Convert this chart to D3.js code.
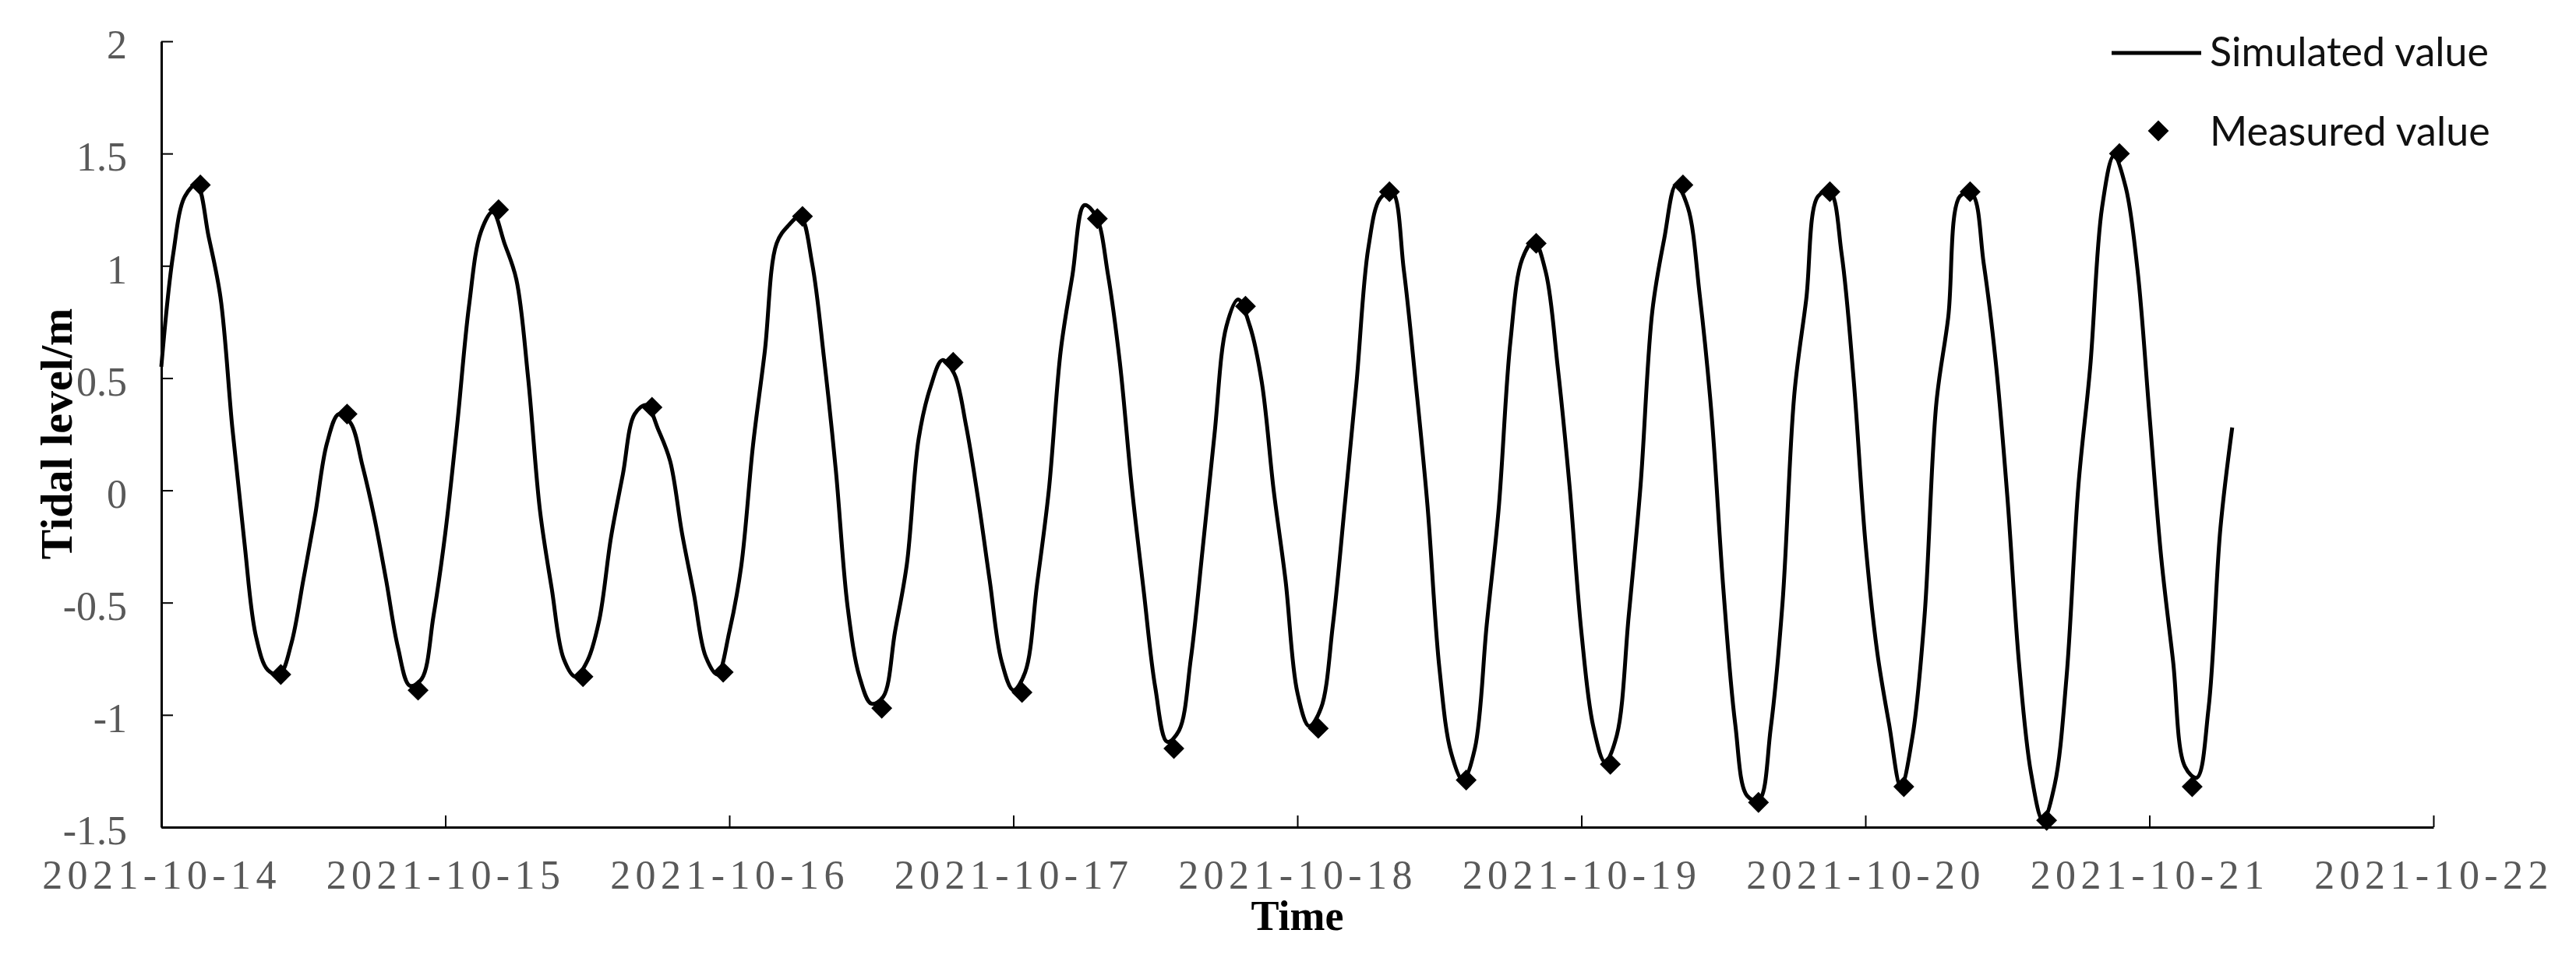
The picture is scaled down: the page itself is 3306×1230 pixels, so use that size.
<!DOCTYPE html>
<html>
<head>
<meta charset="utf-8">
<script src="https://cdnjs.cloudflare.com/ajax/libs/d3/7.8.5/d3.min.js"></script>
<style>
  body { margin: 0; background: #fff; }
  svg { display: block; }
</style>
</head>
<body>
<div id="chart"></div>
<script>
// Simulated tidal level, one value per hour starting at simStart (m)
const simStart = '2021-10-14 00:00';
const simValues = [
  0.55, 1.05, 1.31, 1.36, 1.13, 0.86, 0.28, -0.22, -0.65, -0.80, -0.82, -0.68,
  -0.40, -0.11, 0.21, 0.34, 0.30, 0.11, -0.12, -0.40, -0.70, -0.87, -0.84, -0.56,
  -0.19, 0.29, 0.82, 1.15, 1.24, 1.10, 0.94, 0.50, -0.09, -0.44, -0.75, -0.83,
  -0.76, -0.58, -0.21, 0.07, 0.34, 0.38, 0.27, 0.13, -0.19, -0.46, -0.74, -0.82,
  -0.63, -0.34, 0.20, 0.62, 1.10, 1.18, 1.22, 1.01, 0.59, 0.09, -0.52, -0.83,
  -0.95, -0.92, -0.63, -0.33, 0.23, 0.46, 0.58, 0.52, 0.29, -0.03, -0.40, -0.76,
  -0.89, -0.81, -0.42, 0.00, 0.62, 0.96, 1.27, 1.22, 0.96, 0.57, 0.02, -0.44,
  -0.88, -1.12, -1.07, -0.75, -0.26, 0.25, 0.73, 0.85, 0.73, 0.48, 0.00, -0.40,
  -0.90, -1.05, -0.97, -0.60, -0.07, 0.48, 1.08, 1.30, 1.33, 0.98, 0.48, -0.07,
  -0.79, -1.17, -1.29, -1.15, -0.60, -0.09, 0.66, 1.03, 1.11, 0.97, 0.55, 0.02,
  -0.63, -1.05, -1.21, -1.09, -0.56, 0.02, 0.80, 1.12, 1.36, 1.26, 0.87, 0.34,
  -0.44, -1.04, -1.36, -1.38, -1.06, -0.50, 0.43, 0.85, 1.31, 1.33, 1.05, 0.50,
  -0.23, -0.72, -1.04, -1.32, -1.09, -0.56, 0.39, 0.77, 1.31, 1.32, 1.01, 0.58,
  -0.03, -0.78, -1.26, -1.47, -1.31, -0.83, 0.02, 0.55, 1.26, 1.49, 1.35, 0.98,
  0.34, -0.30, -0.76, -1.23, -1.28, -0.97, -0.17, 0.28
];

// Measured high and low waters
const measuredTimes = [
  '2021-10-14 03:18', '2021-10-14 10:06', '2021-10-14 15:42', '2021-10-14 21:42',
  '2021-10-15 04:30', '2021-10-15 11:38', '2021-10-15 17:28', '2021-10-15 23:29',
  '2021-10-16 06:11', '2021-10-16 12:53', '2021-10-16 18:55', '2021-10-17 00:44',
  '2021-10-17 07:06', '2021-10-17 13:34', '2021-10-17 19:37', '2021-10-18 01:46',
  '2021-10-18 07:47', '2021-10-18 14:16', '2021-10-18 20:11', '2021-10-19 02:27',
  '2021-10-19 08:35', '2021-10-19 14:58', '2021-10-19 21:00', '2021-10-20 03:15',
  '2021-10-20 08:51', '2021-10-20 15:19', '2021-10-20 21:28', '2021-10-21 03:37'
];
const measuredValues = [
  1.36, -0.82, 0.34, -0.89, 1.25, -0.83, 0.37, -0.81,
  1.22, -0.97, 0.57, -0.90, 1.21, -1.15, 0.82, -1.06,
  1.33, -1.29, 1.10, -1.22, 1.36, -1.39, 1.33, -1.32,
  1.33, -1.47, 1.50, -1.32
];

const xTickLabels = [
  '2021-10-14', '2021-10-15', '2021-10-16', '2021-10-17', '2021-10-18',
  '2021-10-19', '2021-10-20', '2021-10-21', '2021-10-22'
];
const yTickValues = [-1.5, -1, -0.5, 0, 0.5, 1, 1.5, 2];

const legendLabels = ['Simulated value', 'Measured value'];

// 1. Setup
const width = 3306, height = 1230;
const plot = { left: 207, right: 3123, top: 53, bottom: 1062 };

const parseDay = d3.timeParse('%Y-%m-%d');
const parseTime = d3.timeParse('%Y-%m-%d %H:%M');
const serif = '"Liberation Serif", "Times New Roman", serif';

const svg = d3.select('#chart').append('svg')
  .attr('width', width)
  .attr('height', height)
  .style('background', '#fff');

const x = d3.scaleTime()
  .domain([parseDay(xTickLabels[0]), parseDay(xTickLabels[xTickLabels.length - 1])])
  .range([plot.left, plot.right]);

const y = d3.scaleLinear()
  .domain([yTickValues[0], yTickValues[yTickValues.length - 1]])
  .range([plot.bottom, plot.top]);

const t0 = parseTime(simStart);
const simData = simValues.map((v, i) => ({ t: d3.timeHour.offset(t0, i), v: v }));
const measData = measuredTimes.map((s, i) => ({ t: parseTime(s), v: measuredValues[i] }));

// 2. Axes
const xAxis = d3.axisBottom(x)
  .tickValues(xTickLabels.map(parseDay))
  .tickFormat(d3.timeFormat('%Y-%m-%d'))
  .tickSizeInner(-15)
  .tickSizeOuter(0)
  .tickPadding(42);

const yAxis = d3.axisLeft(y)
  .tickValues(yTickValues)
  .tickFormat(d => String(d))
  .tickSizeInner(-15)
  .tickSizeOuter(0)
  .tickPadding(44);

const gx = svg.append('g')
  .attr('transform', `translate(0,${plot.bottom})`)
  .call(xAxis);

const gy = svg.append('g')
  .attr('transform', `translate(${plot.left},0)`)
  .call(yAxis);

[gx, gy].forEach(g => {
  g.select('.domain').attr('stroke', '#000').attr('stroke-width', 3);
  g.selectAll('.tick line').attr('stroke', '#000').attr('stroke-width', 2);
  g.selectAll('.tick text')
    .attr('fill', '#595959')
    .style('font-family', serif)
    .style('font-size', '52px');
});
gx.selectAll('.tick text').style('letter-spacing', '6.4px');
gy.selectAll('.tick text').attr('dy', '0.42em');

// Axis titles
svg.append('text')
  .attr('transform', 'translate(92,557) rotate(-90)')
  .attr('text-anchor', 'middle')
  .style('font-family', serif)
  .style('font-weight', 'bold')
  .style('font-size', '58px')
  .text('Tidal level/m');

svg.append('text')
  .attr('x', (plot.left + plot.right) / 2)
  .attr('y', 1194)
  .attr('text-anchor', 'middle')
  .style('font-family', serif)
  .style('font-weight', 'bold')
  .style('font-size', '54px')
  .text('Time');

// 3. Series
const line = d3.line()
  .x(d => x(d.t))
  .y(d => y(d.v))
  .curve(d3.curveCatmullRom.alpha(0.5));

svg.append('path')
  .datum(simData)
  .attr('d', line)
  .attr('fill', 'none')
  .attr('stroke', '#000')
  .attr('stroke-width', 5)
  .attr('stroke-linejoin', 'round');

const diamond = d3.symbol().type(d3.symbolSquare).size(360);

svg.append('g')
  .selectAll('path')
  .data(measData)
  .enter()
  .append('path')
  .attr('d', diamond)
  .attr('transform', d => `translate(${x(d.t)},${y(d.v)}) rotate(45)`)
  .attr('fill', '#000');

// 4. Legend
const legend = svg.append('g').style('font-family', 'Lato, "Open Sans", sans-serif');

legend.append('line')
  .attr('x1', 2710).attr('x2', 2825)
  .attr('y1', 68).attr('y2', 68)
  .attr('stroke', '#000')
  .attr('stroke-width', 5);

legend.append('path')
  .attr('d', diamond)
  .attr('transform', 'translate(2770,168) rotate(45)')
  .attr('fill', '#000');

legend.selectAll('text')
  .data(legendLabels)
  .enter()
  .append('text')
  .attr('x', 2836)
  .attr('y', (d, i) => i === 0 ? 85 : 187)
  .attr('fill', '#111')
  .style('font-size', '52px')
  .text(d => d);
</script>
</body>
</html>
